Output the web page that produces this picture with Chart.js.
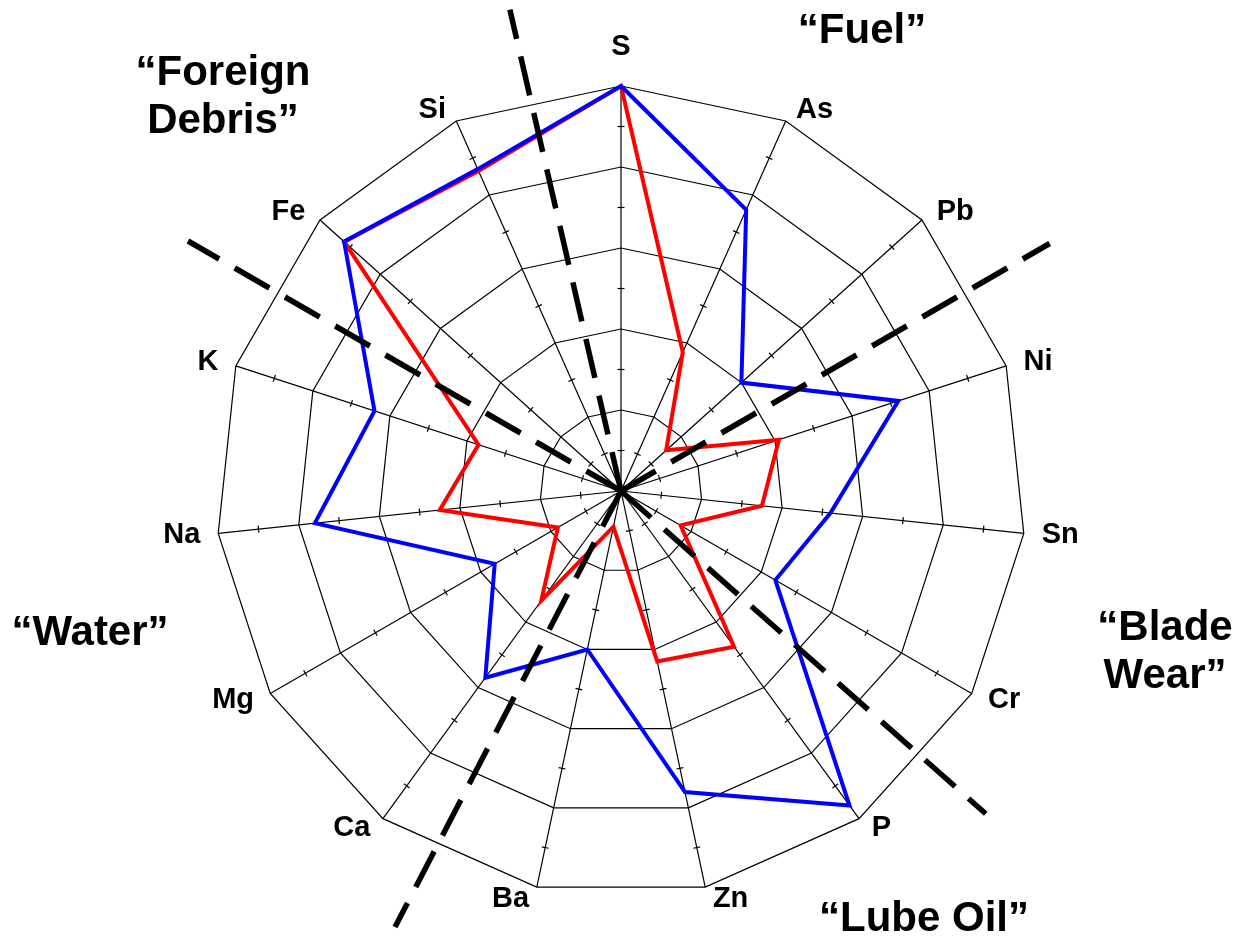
<!DOCTYPE html>
<html>
<head>
<meta charset="utf-8">
<script src="https://cdn.jsdelivr.net/npm/chart.js@4/dist/chart.umd.min.js"></script>
<style>
  html, body { margin: 0; padding: 0; background: #ffffff; }
  canvas { display: block; }
</style>
</head>
<body>
<canvas id="radar" width="1233" height="940"></canvas>
<script>
// Elements on the spokes, clockwise from the top
const elements = ['S', 'As', 'Pb', 'Ni', 'Sn', 'Cr', 'P', 'Zn', 'Ba', 'Ca', 'Mg', 'Na', 'K', 'Fe', 'Si'];

// Normalised concentration signature of each sample (0-100)
const blueSample = [100, 76, 40, 72, 52, 44, 96, 76, 40, 57, 36, 76, 64, 92, 87];
const redSample  = [100, 37.5, 15, 41, 35, 17, 47.5, 43, 9, 33.5, 18, 45, 37, 92, 86.5];

// Scale: rings every 20, small ticks half way between rings
const scaleMax = 100;
const ringStep = 20;
const minorTickValues = [10, 30, 50, 70, 90];

// Source-group dividers (degrees clockwise from the top) and group names
const dividerAngles = [347, 60, 131.5, 207.4, 300];
const dividerLengths = [494, 495, 487, 491, 500];
const groupNames = [
  ['\u201CFuel\u201D'],
  ['\u201CBlade', 'Wear\u201D'],
  ['\u201CLube Oil\u201D'],
  ['\u201CWater\u201D'],
  ['\u201CForeign', 'Debris\u201D']
];
const groupAnchors = [
  { x: 862, y: 43 },
  { x: 1165, y: 640 },
  { x: 924, y: 931 },
  { x: 90, y: 645 },
  { x: 223, y: 85 }
];

const labelFont = 'bold 29px "Liberation Sans", Arial, sans-serif';
const groupFont = 'bold 42px "Liberation Sans", Arial, sans-serif';

const decorations = {
  id: 'decorations',
  beforeDatasetsDraw(chart) {
    // small cross ticks on every spoke
    const s = chart.scales.r;
    const ctx = chart.ctx;
    ctx.save();
    ctx.strokeStyle = '#000';
    ctx.lineWidth = 1.2;
    elements.forEach((_, i) => {
      const a = s.getIndexAngle(i) - Math.PI / 2;
      const px = -Math.sin(a), py = Math.cos(a);
      minorTickValues.forEach(v => {
        const p = s.getPointPosition(i, s.getDistanceFromCenterForValue(v));
        ctx.beginPath();
        ctx.moveTo(p.x - px * 3.5, p.y - py * 3.5);
        ctx.lineTo(p.x + px * 3.5, p.y + py * 3.5);
        ctx.stroke();
      });
    });
    ctx.restore();
  },
  afterDatasetsDraw(chart) {
    const s = chart.scales.r;
    const ctx = chart.ctx;
    ctx.save();

    // dashed dividers between the source groups
    ctx.strokeStyle = '#000';
    ctx.lineWidth = 5.5;
    ctx.lineCap = 'butt';
    ctx.setLineDash([40, 18]);
    dividerAngles.forEach((deg, k) => {
      const a = deg * Math.PI / 180;
      const len = dividerLengths[k];
      ctx.beginPath();
      ctx.moveTo(s.xCenter, s.yCenter);
      ctx.lineTo(s.xCenter + Math.sin(a) * len, s.yCenter - Math.cos(a) * len);
      ctx.stroke();
    });
    ctx.setLineDash([]);

    // element names at the outer ends of the spokes
    ctx.fillStyle = '#000';
    ctx.font = labelFont;
    ctx.textBaseline = 'middle';
    chart.data.labels.forEach((name, i) => {
      const a = s.getIndexAngle(i);
      const sin = Math.sin(a), cos = Math.cos(a);
      const p = s.getPointPosition(i, s.drawingArea);
      if (Math.abs(sin) < 0.05) {
        ctx.textAlign = 'center';
        ctx.fillText(name, p.x, p.y - 39 * Math.sign(cos));
      } else {
        const gap = 5 + 13 * Math.abs(sin);
        ctx.textAlign = sin > 0 ? 'left' : 'right';
        ctx.fillText(name, p.x + Math.sign(sin) * gap, p.y - 12 * cos);
      }
    });

    // group names
    ctx.font = groupFont;
    ctx.textAlign = 'center';
    ctx.textBaseline = 'alphabetic';
    groupNames.forEach((lines, k) => {
      lines.forEach((line, j) => {
        ctx.fillText(line, groupAnchors[k].x, groupAnchors[k].y + j * 48);
      });
    });
    ctx.restore();
  }
};

new Chart(document.getElementById('radar'), {
  type: 'radar',
  data: {
    labels: elements,
    datasets: [
      {
        label: 'Sample B',
        data: blueSample,
        borderColor: '#0000ff',
        borderWidth: 4,
        fill: false,
        pointRadius: 0,
        pointHoverRadius: 0,
        tension: 0
      },
      {
        label: 'Sample A',
        data: redSample,
        borderColor: '#ff0000',
        borderWidth: 4,
        fill: false,
        pointRadius: 0,
        pointHoverRadius: 0,
        tension: 0
      }
    ]
  },
  options: {
    responsive: false,
    animation: false,
    devicePixelRatio: 1,
    layout: { padding: { left: 216, right: 207, top: 86, bottom: 44 } },
    plugins: { legend: { display: false }, tooltip: { enabled: false } },
    elements: { line: { borderJoinStyle: 'miter' } },
    scales: {
      r: {
        min: 0,
        max: scaleMax,
        beginAtZero: true,
        ticks: { display: false, stepSize: ringStep },
        grid: { color: '#000', lineWidth: 1.2, circular: false },
        angleLines: { color: '#000', lineWidth: 1.2 },
        pointLabels: { display: false }
      }
    }
  },
  plugins: [decorations]
});
</script>
</body>
</html>
